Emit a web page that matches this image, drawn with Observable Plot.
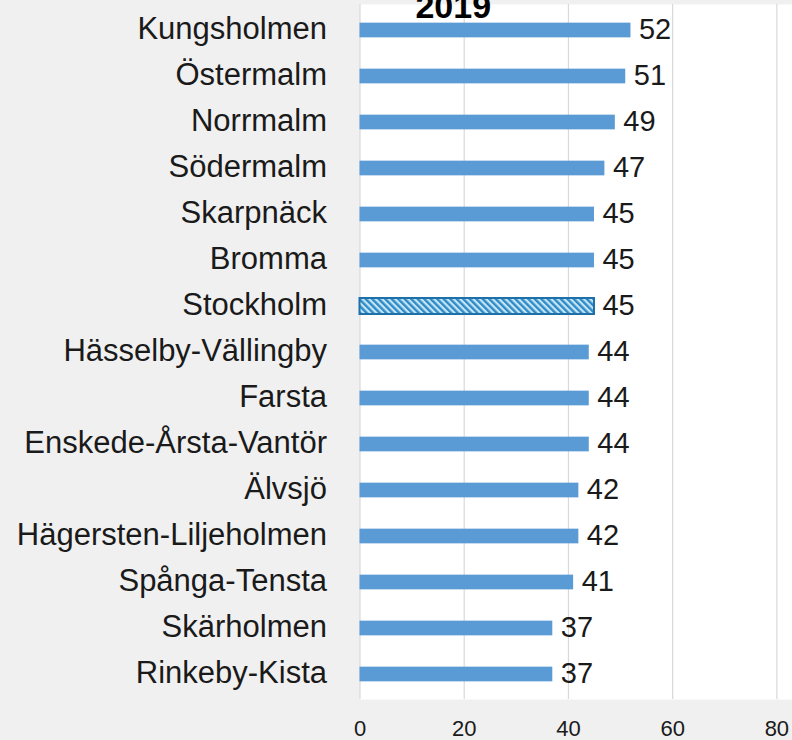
<!DOCTYPE html>
<html>
<head>
<meta charset="utf-8">
<script src="https://cdn.jsdelivr.net/npm/d3@7"></script>
<script src="https://cdn.jsdelivr.net/npm/@observablehq/plot@0.6"></script>
<style>
  html, body { margin: 0; padding: 0; background: #f0f0f0; }
  #chart { width: 792px; height: 740px; overflow: hidden; }
</style>
</head>
<body>
<div id="chart"></div>
<script>
const title = "2019";
const districts = ["Kungsholmen","Östermalm","Norrmalm","Södermalm","Skarpnäck","Bromma","Stockholm","Hässelby-Vällingby","Farsta","Enskede-Årsta-Vantör","Älvsjö","Hägersten-Liljeholmen","Spånga-Tensta","Skärholmen","Rinkeby-Kista"];
const values = [52,51,49,47,45,45,45,44,44,44,42,42,41,37,37];
const highlight = "Stockholm";
const xTicks = [0,20,40,60,80];

const data = districts.map((name, i) => ({name, value: values[i]}));
const normal = data.filter(d => d.name !== highlight);
const hatched = data.filter(d => d.name === highlight);

function defsMark() {
  const g = d3.create("svg:g");
  const p = g.append("defs").append("pattern")
    .attr("id", "hatch")
    .attr("patternUnits", "userSpaceOnUse")
    .attr("width", 4.6).attr("height", 4.6)
    .attr("patternTransform", "rotate(-45)");
  p.append("rect").attr("width", 4.6).attr("height", 4.6).attr("fill", "#c4e6f6");
  p.append("rect").attr("width", 2.4).attr("height", 4.6).attr("fill", "#2f8ac6");
  return g.node();
}

const chart = Plot.plot({
  width: 792,
  height: 740,
  marginLeft: 359.5,
  marginRight: 0,
  marginTop: 4,
  marginBottom: 41,
  style: {background: "transparent", fontFamily: "'Liberation Sans', Arial, sans-serif", color: "#1a1a1a"},
  x: {domain: [0, 83], label: null},
  y: {domain: districts, padding: 0, label: null},
  marks: [
    defsMark,
    Plot.frame({fill: "white", stroke: "none"}),
    Plot.gridX({ticks: xTicks, stroke: "#d9d9d9", strokeOpacity: 1, strokeWidth: 1.2}),
    Plot.barX(normal, {x: "value", y: "name", fill: "#5b9bd5", insetTop: 15.65, insetBottom: 15.65}),
    Plot.barX(hatched, {x: "value", y: "name", fill: "url(#hatch)", stroke: "#1f6fa8", strokeWidth: 2, insetTop: 15, insetBottom: 15}),
    Plot.text(data, {x: "value", y: "name", text: d => String(d.value), textAnchor: "start", dx: 8, dy: -1, fontSize: 29, fill: "#1a1a1a"}),
    Plot.axisX({ticks: xTicks, tickSize: 0, tickPadding: 21, fontSize: 22, label: null, fill: "#1a1a1a"}),
    Plot.axisY({tickSize: 0, tickPadding: 33, fontSize: 31, dy: -1, label: null, fill: "#1a1a1a"}),
    Plot.text([title], {frameAnchor: "top", dx: -123, dy: 3, lineAnchor: "middle", fontSize: 34, fontWeight: "bold", fill: "#000"})
  ]
});
document.getElementById("chart").appendChild(chart);
</script>
</body>
</html>
